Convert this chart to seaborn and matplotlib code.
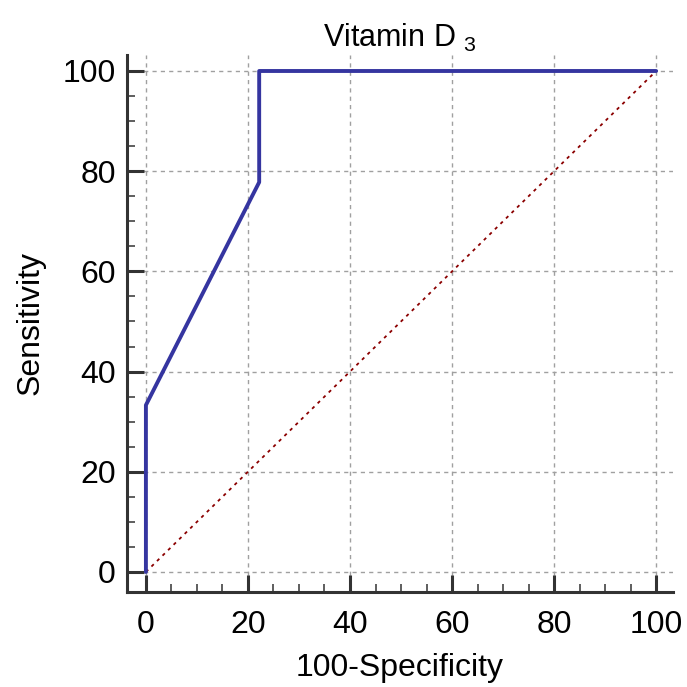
import pandas as pd
import matplotlib.pyplot as plt
import seaborn as sns
from matplotlib.ticker import MultipleLocator

# ROC points
fpr = [0, 0, 22.2, 22.2, 100]
tpr = [0, 33.3, 77.8, 100, 100]
ref_x = [0, 100]
ref_y = [0, 100]
ticks = [0, 20, 40, 60, 80, 100]

sns.set_style("white")
plt.rcParams['font.family'] = ['Liberation Sans', 'DejaVu Sans']
plt.rcParams['mathtext.default'] = 'regular'
plt.rcParams['text.color'] = 'black'
plt.rcParams['axes.labelcolor'] = 'black'
plt.rcParams['xtick.color'] = 'black'
plt.rcParams['ytick.color'] = 'black'

roc = pd.DataFrame({'fpr': fpr, 'tpr': tpr})
ref = pd.DataFrame({'x': ref_x, 'y': ref_y})

fig = plt.figure(figsize=(6.87, 6.87), dpi=100)
ax = fig.add_axes([0.1849, 0.1383, 0.7947, 0.7817])

ax.grid(True, which='major', color='#a0a0a0', linestyle=(0, (3, 3)), linewidth=1.0)
ax.set_axisbelow(True)

sns.lineplot(data=ref, x='x', y='y', ax=ax, color='#8b0000',
             linestyle=(0, (1.8, 2.5)), linewidth=1.3, sort=False, estimator=None)
sns.lineplot(data=roc, x='fpr', y='tpr', ax=ax, color='#3535a0',
             linewidth=2.8, sort=False, estimator=None)

ax.set_xlim(-3.7, 103.3)
ax.set_ylim(-4, 103.2)
ax.set_xticks(ticks)
ax.set_yticks(ticks)
ax.xaxis.set_minor_locator(MultipleLocator(5))
ax.yaxis.set_minor_locator(MultipleLocator(5))

for side in ['top', 'right']:
    ax.spines[side].set_visible(False)
for side in ['left', 'bottom']:
    ax.spines[side].set_color('#333333')
    ax.spines[side].set_linewidth(2.2)

ax.tick_params(which='both', bottom=True, left=True, top=False, right=False)
ax.tick_params(which='major', direction='in', length=12.5, width=2.2,
               color='#333333', labelcolor='black', labelsize=23, pad=13)
ax.tick_params(which='minor', direction='in', length=6, width=1.1, color='#333333')
ax.tick_params(axis='y', which='major', pad=8)

ax.set_xlabel('100-Specificity', fontsize=23, labelpad=9)
ax.set_ylabel('Sensitivity', fontsize=23, labelpad=12)
ax.set_title('Vitamin D $_{3}$', fontsize=22, pad=6)

plt.savefig('out.png', dpi=100)
